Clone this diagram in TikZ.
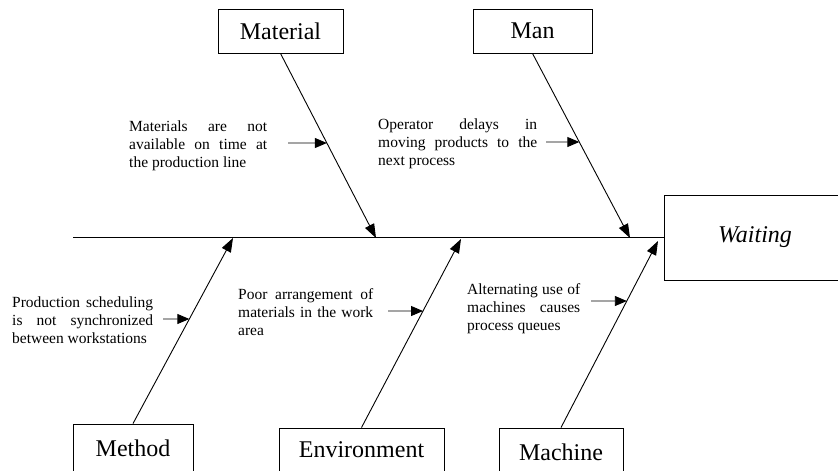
\documentclass[tikz,border=0pt]{standalone}
\usepackage{fontspec}
\setmainfont{Liberation Serif}
\usetikzlibrary{arrows.meta}
% a line of text stretched to a given width (justified line)
\newcommand{\jfill}[2]{\makebox[#1][s]{#2}}
\begin{document}
\begin{tikzpicture}[x=1pt,y=-1pt,
  catbox/.style={draw, line width=0.9pt, inner sep=0pt, font=\fontsize{24}{28}\selectfont},
  causetext/.style={inner sep=0pt, anchor=west, align=left, font=\fontsize{15.5}{18}\selectfont},
  bone/.style={line width=0.9pt, -{Triangle[length=14pt,width=10pt]}},
  cause/.style={line width=0.9pt, -{Triangle[length=12pt,width=10pt]}},
]
\useasboundingbox (0,0) rectangle (838,471);
\clip (0,0) rectangle (838,471);

% category boxes and the effect box
\node[catbox, minimum width=125pt, minimum height=44pt] (mat) at (280.5,31) {Material};
\node[catbox, minimum width=119pt, minimum height=44pt] (man) at (532.5,31) {Man};
\node[catbox, minimum width=120pt, minimum height=48pt] (met) at (133,448) {Method};
\node[catbox, minimum width=165pt, minimum height=44pt] (env) at (361.5,450) {Environment};
\node[catbox, minimum width=124pt, minimum height=48pt] (mac) at (561,452) {Machine};
\node[catbox, minimum width=182pt, minimum height=85pt,
      font=\fontsize{24}{28}\selectfont\itshape] (eff) at (755,237.5) {\raisebox{-2pt}{Waiting}};

% spine
\coordinate (tail) at (73,237.5);
\draw[line width=1pt] (tail) -- (eff.west);

% where the bones meet the spine
\coordinate (tMat) at (376,238);
\coordinate (tMan) at (630,238);
\coordinate (tMet) at (233,238);
\coordinate (tEnv) at (461,239);
\coordinate (tMac) at (658,241);

% bones
\draw[bone] (mat.south) -- (tMat);
\draw[bone] (man.south) -- (tMan);
\draw[bone] (met.north) -- (tMet);
\draw[bone] (env.north) -- (tEnv);
\draw[bone] (mac.north) -- (tMac);

% cause texts
\node[causetext] (txMat) at (129,146) {\jfill{138pt}{Materials are not}\\\jfill{138pt}{available on time at}\\the production line};
\node[causetext] (txMan) at (378,144) {\jfill{159pt}{Operator delays in}\\\jfill{159pt}{moving products to the}\\next process};
\node[causetext] (txMet) at (12,320) {\jfill{141pt}{Production scheduling}\\\jfill{141pt}{is not synchronized}\\between workstations};
\node[causetext] (txEnv) at (238,312) {\jfill{135pt}{Poor arrangement of}\\\jfill{135pt}{materials in the work}\\area};
\node[causetext] (txMac) at (467,309) {\jfill{113pt}{Alternating use of}\\\jfill{113pt}{machines causes}\\process queues};

% cause arrows, each ending on its bone
\coordinate (cMat) at (288,143); \coordinate (cMatB) at (300,143);
\coordinate (cMan) at (546,142); \coordinate (cManB) at (560,142);
\coordinate (cMet) at (163,319); \coordinate (cMetB) at (175,319);
\coordinate (cEnv) at (388,311); \coordinate (cEnvB) at (400,311);
\coordinate (cMac) at (591,301); \coordinate (cMacB) at (605,301);
\draw[cause] (cMat) -- (intersection cs: first line={(cMat)--(cMatB)}, second line={(mat.south)--(tMat)});
\draw[cause] (cMan) -- (intersection cs: first line={(cMan)--(cManB)}, second line={(man.south)--(tMan)});
\draw[cause] (cMet) -- (intersection cs: first line={(cMet)--(cMetB)}, second line={(met.north)--(tMet)});
\draw[cause] (cEnv) -- (intersection cs: first line={(cEnv)--(cEnvB)}, second line={(env.north)--(tEnv)});
\draw[cause] (cMac) -- (intersection cs: first line={(cMac)--(cMacB)}, second line={(mac.north)--(tMac)});
\end{tikzpicture}
\end{document}
